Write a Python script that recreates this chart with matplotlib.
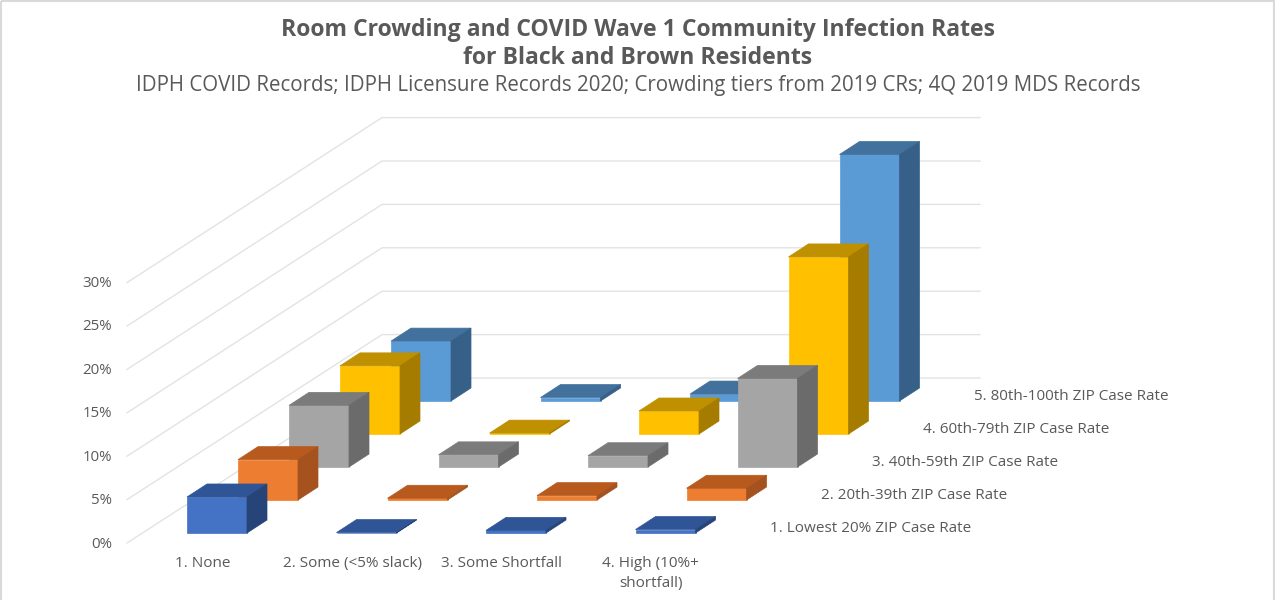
import matplotlib
matplotlib.use("Agg")
import matplotlib.pyplot as plt
from matplotlib.patches import Polygon, Rectangle

plt.rcParams["font.family"] = ["Open Sans", "DejaVu Sans"]

crowding = ["1. None", "2. Some (<5% slack)", "3. Some Shortfall", "4. High (10%+\nshortfall)"]
zip_tiers = [
    "1. Lowest 20% ZIP Case Rate",
    "2. 20th-39th ZIP Case Rate",
    "3. 40th-59th ZIP Case Rate",
    "4. 60th-79th ZIP Case Rate",
    "5. 80th-100th ZIP Case Rate",
]
ticks = [0, 5, 10, 15, 20, 25, 30]

lowest = [4.15, 0.05, 0.3, 0.4]
second = [4.65, 0.2, 0.5, 1.35]
third = [7.1, 1.4, 1.3, 10.2]
fourth = [7.85, 0.1, 2.65, 20.4]
fifth = [6.9, 0.4, 0.8, 28.4]
series = [lowest, second, third, fourth, fifth]

# front, top, side
colors = [
    ("#4472C4", "#2F5597", "#264478"),
    ("#ED7D31", "#B85A1E", "#A5521F"),
    ("#A5A5A5", "#7B7B7B", "#6B6B6B"),
    ("#FFC000", "#BF9000", "#A67C00"),
    ("#5B9BD5", "#41719C", "#376088"),
]

# oblique projection, pixels
cat_step = 149.5
ser_dx, ser_dy = 51, -33
bar_w = 60
bar_dx, bar_dy = 20, -13
y_scale = 8.68
x0, y0 = 187, 533


def proj(c, d, v):
    return x0 + cat_step * c + ser_dx * d, y0 + ser_dy * d - y_scale * v


fig = plt.figure(figsize=(12.75, 6), dpi=100)
ax = fig.add_axes([0, 0, 1, 1])
ax.set_xlim(0, 1275)
ax.set_ylim(600, 0)
ax.axis("off")

ax.add_patch(Rectangle((1, 0.5), 1273, 620, fill=False, ec="#D9D9D9", lw=1.5))

# walls
for t in ticks:
    ly = 543 - y_scale * t
    ax.plot([127, 382, 980], [ly, ly + 5 * ser_dy, ly + 5 * ser_dy], color="#E3E3E3", lw=1, zorder=1)
    ax.text(112, ly + 1, f"{t}%", ha="right", va="center", fontsize=10.8, color="#595959")

# back to front so nearer bars cover the ones behind
for d in range(len(series) - 1, -1, -1):
    front, top, side = colors[d]
    for c in range(len(crowding)):
        x, y = proj(c, d, 0)
        _, ty = proj(c, d, series[d][c])
        ax.add_patch(Polygon([(x, y), (x + bar_w, y), (x + bar_w, ty), (x, ty)], fc=front, ec=front, lw=0.5, zorder=3))
        ax.add_patch(Polygon([(x, ty), (x + bar_w, ty), (x + bar_w + bar_dx, ty + bar_dy), (x + bar_dx, ty + bar_dy)],
                             fc=top, ec=top, lw=0.5, zorder=3))
        ax.add_patch(Polygon([(x + bar_w, y), (x + bar_w + bar_dx, y + bar_dy), (x + bar_w + bar_dx, ty + bar_dy), (x + bar_w, ty)],
                             fc=side, ec=side, lw=0.5, zorder=3))

for c, name in enumerate(crowding):
    cx = 203 + 149.3 * c
    ax.text(cx, 556, name, ha="center", va="top", fontsize=11, color="#595959", linespacing=1.45)

for d, name in enumerate(zip_tiers):
    ax.text(770 + 51 * d, 528.5 + ser_dy * d, name, ha="left", va="center", fontsize=11, color="#595959")

ax.text(638, 30, "Room Crowding and COVID Wave 1 Community Infection Rates", ha="center", va="center",
        fontsize=16.6, fontweight="bold", color="#595959")
ax.text(638, 58, "for Black and Brown Residents", ha="center", va="center",
        fontsize=16.6, fontweight="bold", color="#595959")
ax.text(638, 85, "IDPH COVID Records; IDPH Licensure Records 2020; Crowding tiers from 2019 CRs; 4Q 2019 MDS Records",
        ha="center", va="center", fontsize=14.8, color="#595959")

fig.savefig("out.png", dpi=100)
